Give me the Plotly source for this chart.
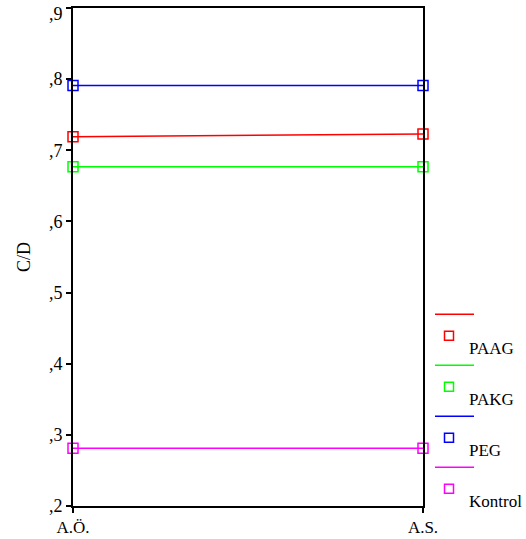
import plotly.graph_objects as go

categories = ["A.Ö.", "A.S."]
series_names = ["PAAG", "PAKG", "PEG", "Kontrol"]
paag = [0.719, 0.723]
pakg = [0.677, 0.677]
peg = [0.791, 0.791]
kontrol = [0.281, 0.281]
y_ticks = [0.2, 0.3, 0.4, 0.5, 0.6, 0.7, 0.8, 0.9]
y_tick_labels = [",2", ",3", ",4", ",5", ",6", ",7", ",8", ",9"]

colors = ["#ff0000", "#00ff00", "#0000ff", "#ff00ff"]
values = [paag, pakg, peg, kontrol]
FONT = "Liberation Serif"

W, H = 526, 539
L, R, T, B = 73, 103, 8, 33
pw, ph = W - L - R, H - T - B

def px(x):
    return (x - L) / pw

def py(y):
    return (H - B - y) / ph

fig = go.Figure()
xpos = list(range(len(categories)))
for name, vals, c in zip(series_names, values, colors):
    fig.add_trace(go.Scatter(
        x=xpos, y=vals, mode="lines+markers", name=name,
        line=dict(color=c, width=1.5),
        marker=dict(symbol="square-open", size=10, color=c, line=dict(width=1.5, color=c)),
        showlegend=False, cliponaxis=False,
    ))

shapes = []
annotations = []
for i, (name, c) in enumerate(zip(series_names, colors)):
    ly = 314.3 + i * 51
    shapes.append(dict(type="line", xref="paper", yref="paper",
                       x0=px(435), x1=px(474), y0=py(ly), y1=py(ly),
                       line=dict(color=c, width=1.5)))
    sy = ly + 21.5
    shapes.append(dict(type="rect", xref="paper", yref="paper",
                       x0=px(444.5), x1=px(453.5), y0=py(sy - 4.5), y1=py(sy + 4.5),
                       line=dict(color=c, width=1.5)))
    annotations.append(dict(xref="paper", yref="paper", x=px(467), y=py(ly + 34),
                            text=name, showarrow=False, xanchor="left", yanchor="middle",
                            font=dict(family=FONT, size=17, color="black")))

# top tick label is nudged down so it stays inside the page (as in the reference)
shown_tick_text = y_tick_labels[:-1] + [""]
annotations.append(dict(xref="paper", yref="y", x=0, y=y_ticks[-1], yshift=-6, xshift=-8,
                        text=y_tick_labels[-1], showarrow=False, xanchor="right",
                        yanchor="middle", font=dict(family=FONT, size=18, color="black")))

fig.update_layout(
    width=W, height=H,
    margin=dict(l=L, r=R, t=T, b=B, pad=0, autoexpand=False),
    paper_bgcolor="white", plot_bgcolor="white",
    shapes=shapes, annotations=annotations,
    font=dict(family=FONT, size=17, color="black"),
    xaxis=dict(range=[0, 1], tickvals=xpos, ticktext=categories, showgrid=False,
               zeroline=False, showline=True, linecolor="black", linewidth=2,
               mirror=True, ticks="outside", ticklen=5, tickcolor="black", tickwidth=2,
               automargin=False,
               tickfont=dict(family=FONT, size=17)),
    yaxis=dict(range=[0.2, 0.9], tickvals=y_ticks, ticktext=shown_tick_text, showgrid=False,
               zeroline=False, showline=True, linecolor="black", linewidth=2,
               mirror=True, ticks="outside", ticklen=5, tickcolor="black", tickwidth=2,
               ticklabeloverflow="allow", automargin=False,
               tickfont=dict(family=FONT, size=18),
               title=dict(text="C/D", font=dict(family=FONT, size=18), standoff=14)),
)

fig.write_html("out.html")
